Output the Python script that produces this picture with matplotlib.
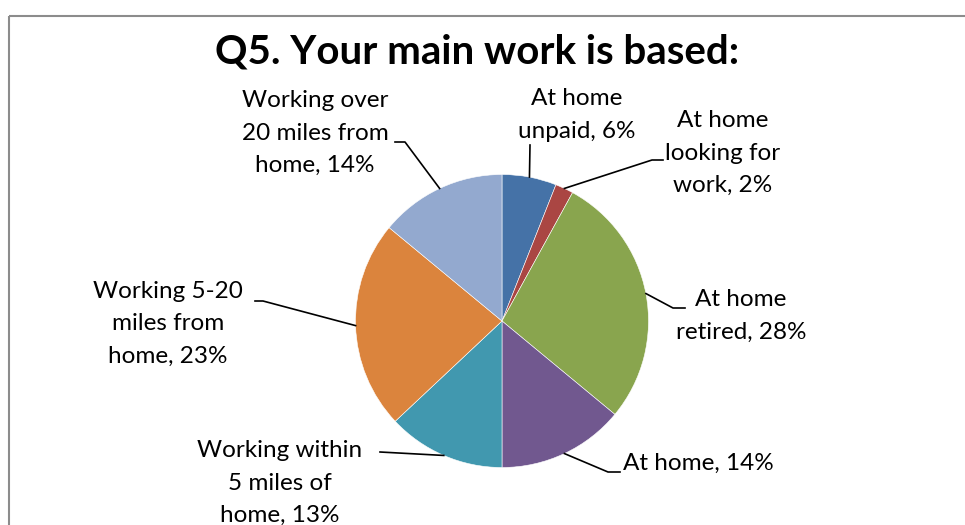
import numpy as np
import matplotlib
matplotlib.use("Agg")
from matplotlib import pyplot as plt
from matplotlib.patches import Rectangle

plt.rcParams['font.family'] = ['Lato', 'DejaVu Sans']

labels = [
    "At home\nunpaid, 6%",
    "At home\nlooking for\nwork, 2%",
    "At home\nretired, 28%",
    "At home, 14%",
    "Working within\n5 miles of\nhome, 13%",
    "Working 5-20\nmiles from\nhome, 23%",
    "Working over\n20 miles from\nhome, 14%",
]
values = [6, 2, 28, 14, 13, 23, 14]
colors = ["#4572A7", "#AA4643", "#89A54E", "#71588F",
          "#4198AF", "#DB843D", "#93A9CF"]

# layout in pixels: text position, alignment, leader bend points
label_pos = [(577, 115), (723, 153), (741, 316), (623, 463),
             (280, 483), (168, 324), (315, 133)]
label_ha = ["center", "center", "center", "left",
            "center", "center", "center"]
leaders = [
    [(530, 145)],
    [(652, 160), (663, 160)],
    [(673, 308), (685, 308)],
    [(608, 472), (620, 472)],
    [(380, 452)],
    [(263, 301), (255, 301)],
    [(405, 142), (395, 142)],
]

W, H = 965, 525
cx, cy, R = 502, 321, 146.5

fig = plt.figure(figsize=(W/100, H/100), dpi=100)
ax = fig.add_axes([0, 0, 1, 1])

# chart border (runs off right and bottom)
ax.add_patch(Rectangle((9, 16), W, H, fill=False,
                       edgecolor="#8c8c8c", linewidth=1.5))

ax.text(477, 52, "Q5. Your main work is based:", ha="center", va="center",
        fontsize=29, fontweight="bold", color="black")

# y axis inverted, so counter-clockwise in data == clockwise on screen
wedges, _ = ax.pie(values, colors=colors, startangle=-90, counterclock=True,
                   center=(cx, cy), radius=R, frame=True,
                   wedgeprops=dict(edgecolor="white", linewidth=0.4))
ax.set_xlim(0, W)
ax.set_ylim(H, 0)
ax.set_aspect("equal")
ax.axis("off")

total = float(sum(values))
cum = 0.0
for lab, v, pos, ha, pts in zip(labels, values, label_pos, label_ha, leaders):
    mid = 90 - (cum + v/2) / total * 360
    cum += v
    ax_x = cx + R*np.cos(np.radians(mid))
    ax_y = cy - R*np.sin(np.radians(mid))
    xs = [ax_x] + [p[0] for p in pts]
    ys = [ax_y] + [p[1] for p in pts]
    ax.plot(xs, ys, color="black", linewidth=1.2)
    ax.text(pos[0], pos[1], lab, ha=ha, va="center", multialignment="center",
            fontsize=17.5, linespacing=1.65, color="black")

fig.savefig("out.png", dpi=100)
